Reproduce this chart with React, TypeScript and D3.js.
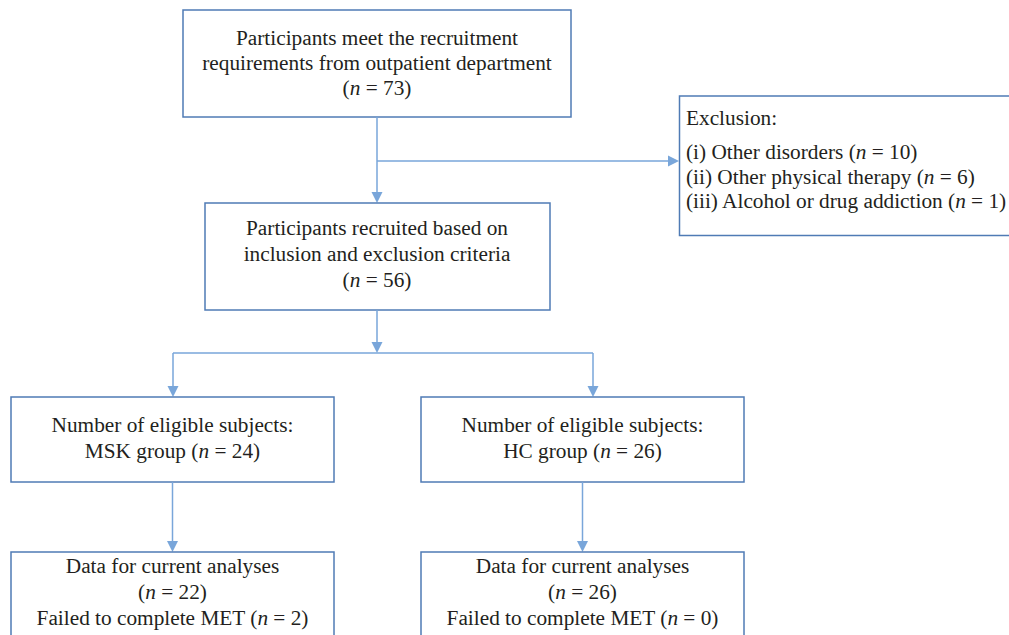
import React from "react";
import * as d3 from "d3";

// ---- data ----
const screenedCount = 73;
const includedCount = 56;
const exclusionReasons = ["(i) Other disorders", "(ii) Other physical therapy", "(iii) Alcohol or drug addiction"];
const exclusionCounts = [10, 6, 1];
const groups = ["MSK", "HC"];
const eligibleCounts = [24, 26];
const analysedCounts = [22, 26];
const failedCounts = [2, 0];

// ---- layout (styling / geometry) ----
const W = 1009;
const H = 635;
const BOX = "#4f7bb5";
const ARROW = "#79a6da";
const TXT = "#231f20";
const FONT = "'Liberation Serif', 'Times New Roman', serif";
const FS = 21.3;

type Line = { pre: string; n?: number | string; post?: string };

function TextLine({ x, y, line, anchor = "middle" }: { x: number; y: number; line: Line; anchor?: string }) {
  return (
    <text x={x} y={y} textAnchor={anchor} fontFamily={FONT} fontSize={FS} fill={TXT}>
      {line.pre}
      {line.n !== undefined && (
        <>
          <tspan>(</tspan>
          <tspan fontStyle="italic">n</tspan>
          <tspan>{` = ${line.n})`}</tspan>
        </>
      )}
      {line.post}
    </text>
  );
}

function Arrow({ pts }: { pts: [number, number][] }) {
  const line = d3.line();
  const [x1, y1] = pts[pts.length - 2];
  const [x2, y2] = pts[pts.length - 1];
  const ang = Math.atan2(y2 - y1, x2 - x1);
  const L = 11, Wd = 5.5;
  const bx = x2 - L * Math.cos(ang), by = y2 - L * Math.sin(ang);
  const head: [number, number][] = [
    [x2, y2],
    [bx + Wd * Math.sin(ang), by - Wd * Math.cos(ang)],
    [bx - Wd * Math.sin(ang), by + Wd * Math.cos(ang)],
  ];
  const shaft = pts.slice(0, -1).concat([[bx, by]]);
  return (
    <g>
      <path d={line(shaft) || ""} fill="none" stroke={ARROW} strokeWidth={1.5} />
      <path d={(line(head) || "") + "Z"} fill={ARROW} />
    </g>
  );
}

export default function App() {
  const xBox = d3.scaleOrdinal<string, number>().domain(groups).range([11, 421]);
  const boxW = 323;
  const c1 = 377;
  return (
    <svg width={W} height={H} style={{ position: "absolute", left: 0, top: 0, background: "#fff" }}>
      {/* Box 1 */}
      <rect x={183} y={10} width={388} height={107} fill="#fff" stroke={BOX} strokeWidth={1.5} />
      <TextLine x={c1} y={45} line={{ pre: "Participants meet the recruitment" }} />
      <TextLine x={c1} y={70} line={{ pre: "requirements from outpatient department" }} />
      <TextLine x={c1} y={95} line={{ pre: "", n: screenedCount }} />

      {/* connectors */}
      <Arrow pts={[[c1, 117], [c1, 203]]} />
      <Arrow pts={[[c1, 161], [679, 161]]} />

      {/* Exclusion box */}
      <path d="M1010,96 H679.5 V235.5 H1010" fill="#fff" stroke={BOX} strokeWidth={1.5} />
      <TextLine x={686} y={125} anchor="start" line={{ pre: "Exclusion:" }} />
      {exclusionReasons.map((r, i) => (
        <TextLine key={r} x={686} y={159 + i * 24.5} anchor="start" line={{ pre: r + " ", n: exclusionCounts[i] }} />
      ))}

      {/* Box 2 */}
      <rect x={205} y={203} width={345} height={107} fill="#fff" stroke={BOX} strokeWidth={1.5} />
      <TextLine x={c1} y={235} line={{ pre: "Participants recruited based on" }} />
      <TextLine x={c1} y={261} line={{ pre: "inclusion and exclusion criteria" }} />
      <TextLine x={c1} y={287} line={{ pre: "", n: includedCount }} />

      <Arrow pts={[[c1, 310], [c1, 353]]} />
      <path d={`M173,353 H593`} stroke={ARROW} strokeWidth={1.5} fill="none" />
      <Arrow pts={[[173, 353], [173, 397]]} />
      <Arrow pts={[[593, 353], [593, 397]]} />

      {groups.map((g, i) => {
        const x0 = xBox(g);
        const cx = x0 + boxW / 2;
        return (
          <g key={g}>
            <rect x={x0} y={397} width={boxW} height={85} fill="#fff" stroke={BOX} strokeWidth={1.5} />
            <TextLine x={cx} y={432} line={{ pre: "Number of eligible subjects:" }} />
            <TextLine x={cx} y={458} line={{ pre: `${g} group `, n: eligibleCounts[i] }} />
            <Arrow pts={[[cx, 482], [cx, 552]]} />
            <rect x={x0} y={552} width={boxW} height={120} fill="#fff" stroke={BOX} strokeWidth={1.5} />
            <TextLine x={cx} y={573} line={{ pre: "Data for current analyses" }} />
            <TextLine x={cx} y={599} line={{ pre: "", n: analysedCounts[i] }} />
            <TextLine x={cx} y={625} line={{ pre: "Failed to complete MET ", n: failedCounts[i] }} />
          </g>
        );
      })}
    </svg>
  );
}
